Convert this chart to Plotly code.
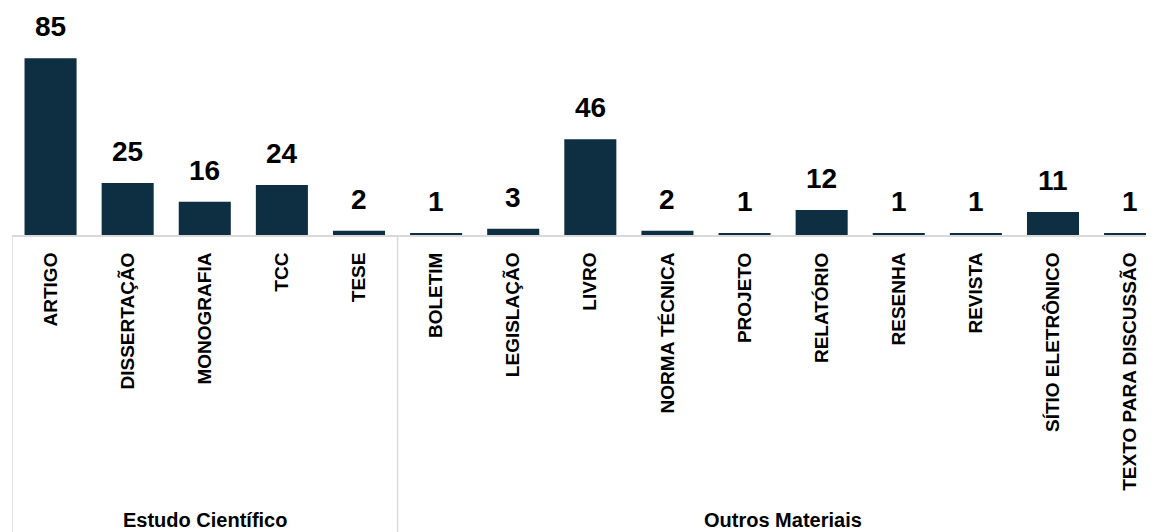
import plotly.graph_objects as go

categories = ["ARTIGO", "DISSERTAÇÃO", "MONOGRAFIA", "TCC", "TESE",
              "BOLETIM", "LEGISLAÇÃO", "LIVRO", "NORMA TÉCNICA", "PROJETO",
              "RELATÓRIO", "RESENHA", "REVISTA", "SÍTIO ELETRÔNICO", "TEXTO PARA DISCUSSÃO"]
values = [85, 25, 16, 24, 2, 1, 3, 46, 2, 1, 12, 1, 1, 11, 1]
groups = ["Estudo Científico", "Outros Materiais"]
group_sizes = [5, 10]

BAR = "#0e2f41"
GRID = "#d9d9d9"
FONT = "Liberation Sans, Arial, sans-serif"

# page body has an 8px margin; size the figure so it fills the rest of the window
W, H = 1146, 524
ml, mr, mt, mb = 4, 0, 19, 297
x_range = [-0.5, 14.31]
y_range = [0, 100]
plot_h = H - mt - mb

fig = go.Figure()
fig.add_trace(go.Bar(
    x=list(range(len(categories))), y=values,
    marker=dict(color=BAR, line=dict(width=0)),
    hoverinfo="skip",
))

for i, v in enumerate(values):
    fig.add_annotation(x=i, y=v, xref="x", yref="y", text=f"<b>{v}</b>",
                       showarrow=False, yanchor="bottom", yshift=14,
                       font=dict(family=FONT, size=28, color="#000000"))

# group dividers and labels
bottom = -mb / plot_h
start = -0.5
for g, n in zip(groups, group_sizes):
    fig.add_shape(type="line", xref="x", yref="paper", x0=start, x1=start,
                  y0=0, y1=bottom, line=dict(color=GRID, width=1.5), layer="below")
    fig.add_annotation(x=start + n / 2, y=bottom + 12 / plot_h, xref="x", yref="paper",
                       text=f"<b>{g}</b>", showarrow=False, yanchor="middle",
                       font=dict(family=FONT, size=20, color="#000000"))
    start += n
fig.add_shape(type="line", xref="x", yref="paper", x0=start, x1=start,
              y0=0, y1=bottom, line=dict(color=GRID, width=1.5), layer="below")

fig.update_layout(
    width=W, height=H,
    margin=dict(l=ml, r=mr, t=mt, b=mb, pad=0),
    paper_bgcolor="white", plot_bgcolor="white",
    bargap=0.325, showlegend=False,
    xaxis=dict(
        range=x_range, tickmode="array",
        tickvals=list(range(len(categories))),
        ticktext=[f"<b>{c}</b>" for c in categories],
        tickangle=-90, ticks="", showgrid=False, zeroline=False,
        showline=True, linecolor=GRID, linewidth=2, layer="above traces",
        tickfont=dict(family=FONT, size=19, color="#000000"),
        ticklabelstandoff=8,
    ),
    yaxis=dict(range=y_range, visible=False, showgrid=False, zeroline=False),
)

fig.write_html("out.html")
